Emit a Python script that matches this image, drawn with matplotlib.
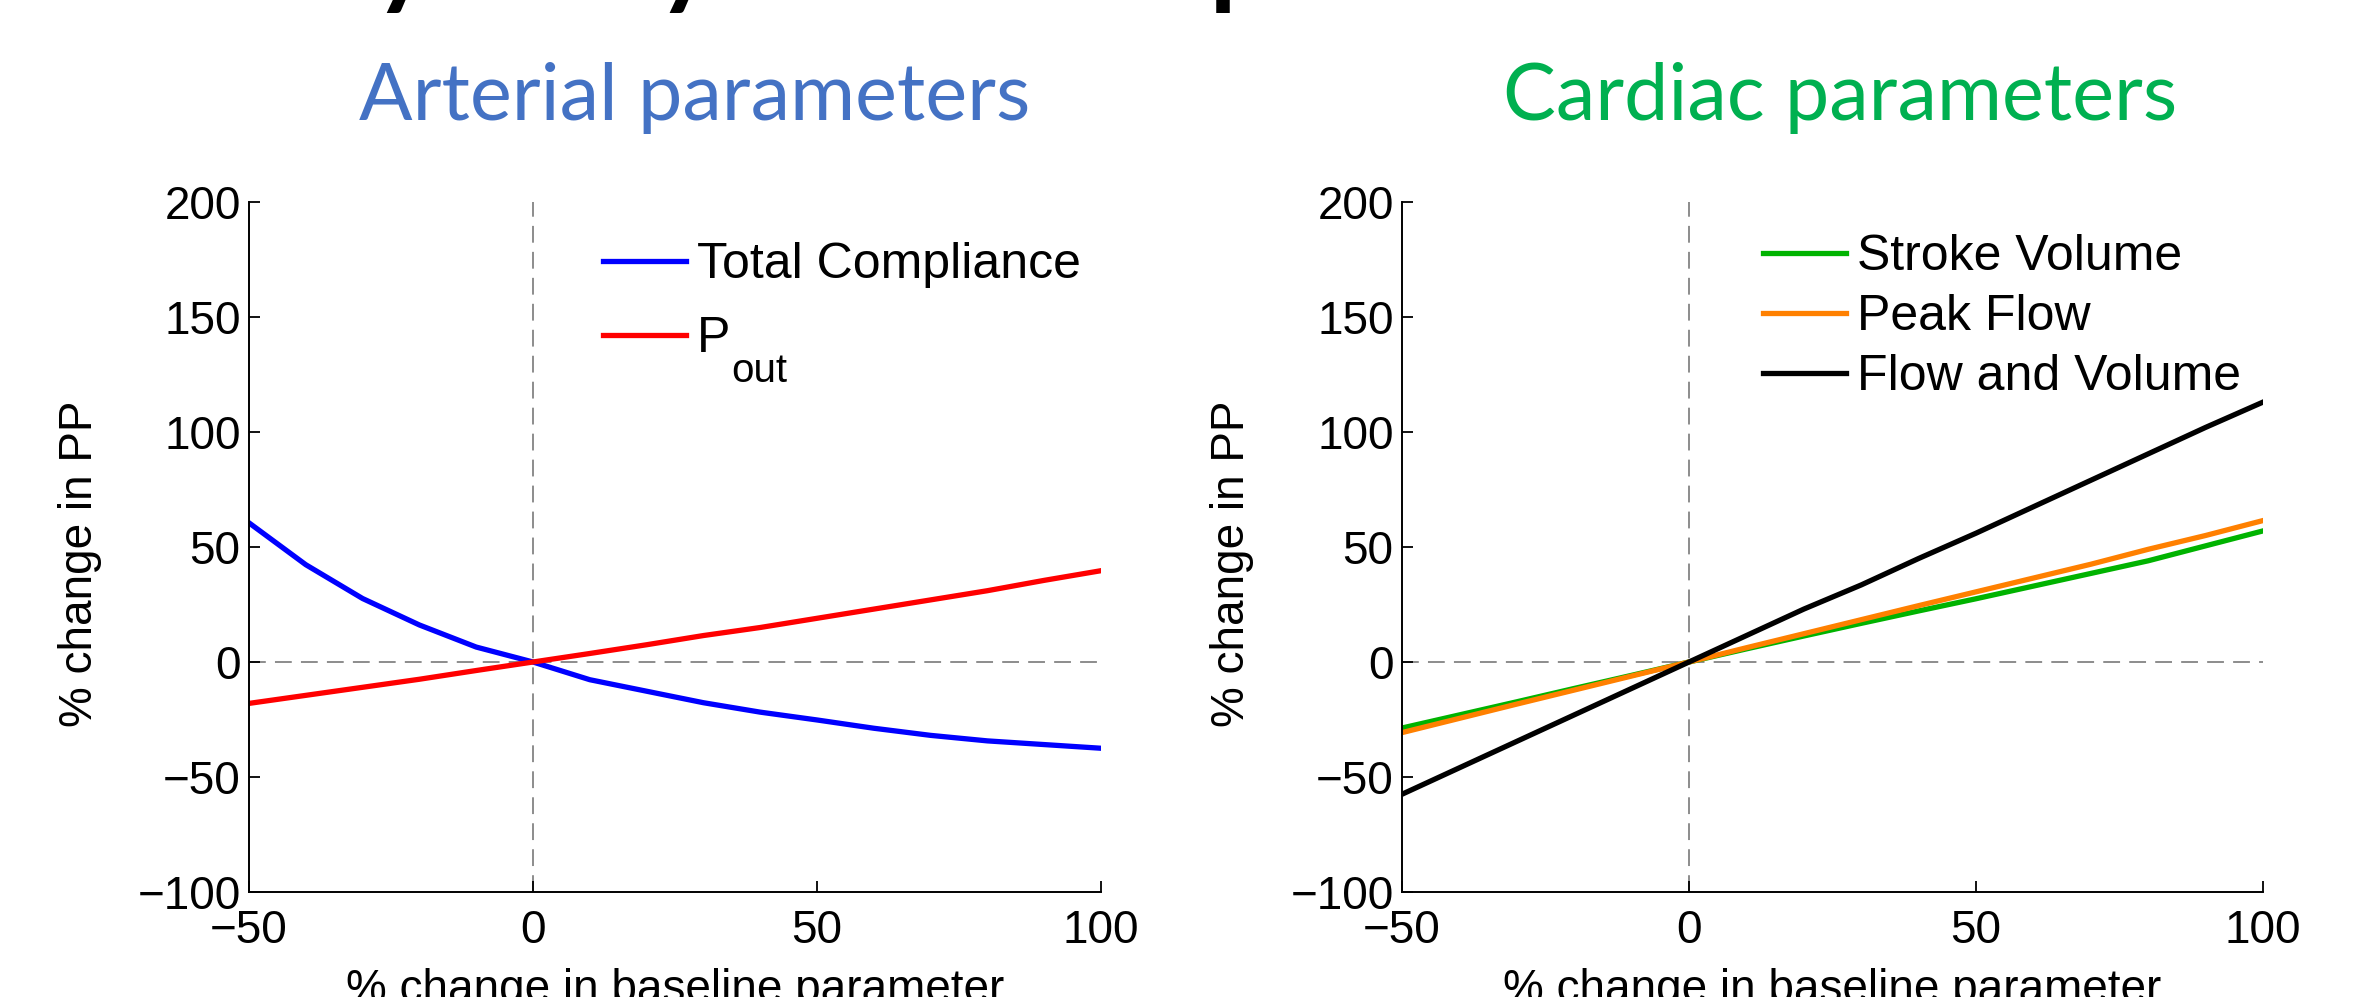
import matplotlib
matplotlib.use('Agg')
from matplotlib import pyplot as plt
from matplotlib.font_manager import FontProperties

plt.rcParams['font.family'] = ['Liberation Sans', 'DejaVu Sans']

# % change applied to the baseline parameter
PCT_CHANGE = [-50, -40, -30, -20, -10, 0, 10, 20, 30, 40, 50, 60, 70, 80, 90, 100]

# arterial parameters -> % change in PP
TOTAL_COMPLIANCE = [60.5, 42.3, 27.6, 16.1, 6.5, 0, -7.7, -12.7, -17.7, -21.8,
                    -25.2, -28.8, -31.9, -34.3, -35.9, -37.5]
P_OUT = [-18.0, -14.5, -11.0, -7.5, -3.7, 0, 3.7, 7.5, 11.5, 15.0,
         19.0, 23.0, 27.0, 31.0, 35.5, 39.7]

# cardiac parameters -> % change in PP
STROKE_VOLUME = [-28.7, -23.0, -17.3, -11.5, -5.8, 0, 5.7, 11.3, 16.8, 22.2,
                 27.5, 33.0, 38.5, 44.0, 50.5, 57.0]
PEAK_FLOW = [-30.7, -24.5, -18.3, -12.2, -6.1, 0, 6.2, 12.3, 18.4, 24.5,
             30.5, 36.5, 42.5, 49.0, 55.0, 61.5]
FLOW_AND_VOLUME = [-57.5, -46.0, -34.5, -23.0, -11.5, 0, 11.5, 23.0, 33.5, 45.0,
                   56.0, 67.5, 79.0, 90.5, 102.0, 113.0]

X_TICKS = [-50, 0, 50, 100]
Y_TICKS = [-100, -50, 0, 50, 100, 150, 200]

W, H = 2378, 997
LW = 3.8
fig = plt.figure(figsize=(W / 100, H / 100), dpi=100)


def setup(ax):
    # dashed reference lines through the origin
    ax.axhline(0, color='#6e6e6e', lw=1.1, ls=(0, (11, 6)), zorder=1)
    ax.axvline(0, color='#6e6e6e', lw=1.1, ls=(0, (11, 6)), zorder=1)
    ax.set_xlim(-50, 100)
    ax.set_ylim(-100, 200)
    ax.set_xticks(X_TICKS)
    ax.set_yticks(Y_TICKS)
    for s in ['top', 'right']:
        ax.spines[s].set_visible(False)
    for s in ['left', 'bottom']:
        ax.spines[s].set_linewidth(1.4)
    ax.tick_params(direction='in', length=8, width=1.3, labelsize=33)
    ax.tick_params(axis='x', pad=12)
    ax.tick_params(axis='y', pad=6)
    ax.set_xlabel('% change in baseline parameter', fontsize=33, labelpad=11)
    ax.set_ylabel('% change in PP', fontsize=33)
    ax.yaxis.set_label_coords(-0.172, 0.475)


# left panel: arterial
ax1 = fig.add_axes([249 / W, 105 / H, 852 / W, 690 / H])
setup(ax1)
ax1.plot(PCT_CHANGE, TOTAL_COMPLIANCE, color='#0000ff', lw=LW, label='Total Compliance')
ax1.plot(PCT_CHANGE, P_OUT, color='#ff0000', lw=LW, label='P')
leg1 = ax1.legend(loc='upper left', bbox_to_anchor=(0.4155, 0.942), frameon=False,
                  fontsize=36, handlelength=1.66, handletextpad=0.22, borderpad=0,
                  borderaxespad=0, labelspacing=0.56)

# right panel: cardiac
ax2 = fig.add_axes([1402 / W, 105 / H, 861 / W, 690 / H])
setup(ax2)
ax2.plot(PCT_CHANGE, STROKE_VOLUME, color='#00b300', lw=LW, label='Stroke Volume')
ax2.plot(PCT_CHANGE, PEAK_FLOW, color='#ff8000', lw=LW, label='Peak Flow')
ax2.plot(PCT_CHANGE, FLOW_AND_VOLUME, color='#000000', lw=LW, label='Flow and Volume')
ax2.legend(loc='upper left', bbox_to_anchor=(0.419, 0.953), frameon=False,
           fontsize=36, handlelength=1.66, handletextpad=0.22, borderpad=0,
           borderaxespad=0, labelspacing=0.28)

# panel headings
fig.text(695 / W, 1 - 120 / H, 'Arterial parameters', ha='center', va='baseline',
         color='#4472c4', fontsize=57, family='Lato')
fig.text(1840 / W, 1 - 120 / H, 'Cardiac parameters', ha='center', va='baseline',
         color='#00b050', fontsize=57, family='Lato')

fig.canvas.draw()
r = fig.canvas.get_renderer()

# subscript "out" for P_out, dropped well below the P like the original
ptxt = leg1.get_texts()[1]
bb = ptxt.get_window_extent(r)
d_lp = r.get_text_width_height_descent('lp', ptxt.get_fontproperties(), ismath=False)[2]
p_base = bb.y0 + d_lp
fig.text((bb.x1 + 1) / W, (p_base - 30) / H, 'out', fontsize=29,
         ha='left', va='baseline')

# slide title, mostly cut off by the top edge (only descenders show)
title = 'Sensitivity analysis: which parameters matter'
fp = FontProperties(family='Lato', weight='bold', size=100)


def tw(s):
    return r.get_text_width_height_descent(s, fp, ismath=False)[0]


a1 = tw('Sensitivit') + 0.3 * tw('y')
a3 = tw('Sensitivity analysis: which ') + 0.2 * tw('p')
k = (1221 - 391) / (a3 - a1)
x0 = 391 - k * a1
desc = r.get_text_width_height_descent('y', fp, ismath=False)[2] * k
base = 13 - desc
fig.text(x0 / W, 1 - base / H, title, ha='left', va='baseline',
         fontsize=100 * k, family='Lato', weight='bold', color='black')

fig.savefig('out.png', dpi=100)
